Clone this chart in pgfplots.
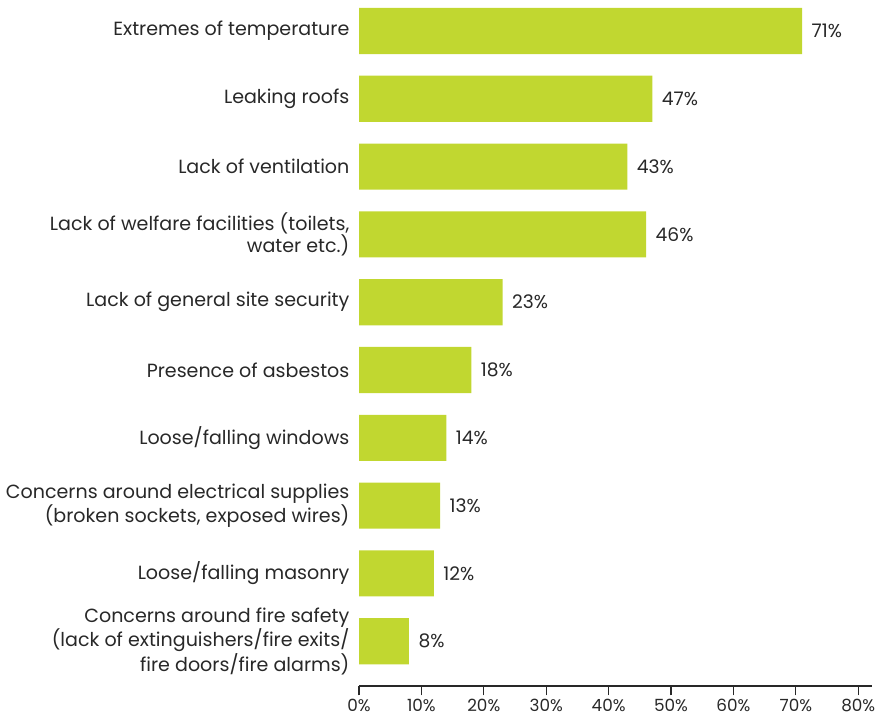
\documentclass[border=0pt]{standalone}
\usepackage{pgfplots}
\pgfplotsset{compat=1.18}
\usepackage{fontspec}
\setmainfont{Poppins}
\definecolor{barlime}{RGB}{193,215,48}
\definecolor{txt}{RGB}{40,40,40}
\begin{document}
\begin{tikzpicture}
\path[use as bounding box] (0,0) rectangle (672pt,540pt);
\begin{axis}[
  at={(269.25pt,25.5pt)}, anchor=south west,
  scale only axis, width=384.75pt, height=514.5pt,
  xbar, bar width=0.68, bar shift=0pt,
  xmin=0, xmax=82.2,
  ymin=-0.457, ymax=9.66, y dir=reverse,
  axis x line*=bottom, axis y line*=left,
  y axis line style={draw=none},
  x axis line style={draw=txt, line width=0.9pt, -},
  ytick={0,...,9}, ytick style={draw=none},
  yticklabels={
    {Extremes of temperature},
    {Leaking roofs},
    {Lack of ventilation},
    {Lack of welfare facilities (toilets,\\water etc.)},
    {Lack of general site security},
    {Presence of asbestos},
    {Loose/falling windows},
    {Concerns around electrical supplies\\(broken sockets, exposed wires)},
    {Loose/falling masonry},
    {Concerns around fire safety\\(lack of extinguishers/fire exits/\\fire doors/fire alarms)}},
  yticklabel style={align=right, font=\fontsize{14.3}{16.6}\selectfont, text=txt, inner sep=0pt, xshift=0pt},
  xtick={0,10,...,80},
  xticklabel={\pgfmathprintnumber{\tick}\%},
  /pgf/number format/assume math mode=true,
  xticklabel style={font=\fontsize{12.6}{14}\selectfont, text=txt, inner sep=0pt, yshift=-2.5pt},
  xtick style={draw=txt, line width=0.9pt},
  tick align=outside, major tick length=7pt,
  nodes near coords={\pgfmathprintnumber{\pgfplotspointmeta}\%},
  nodes near coords style={font=\fontsize{14}{14}\selectfont, text=txt, anchor=west, inner sep=0pt, xshift=7pt},
  clip=false,
]
\addplot[fill=barlime, draw=none] coordinates {
(71,0) (47,1) (43,2) (46,3) (23,4) (18,5) (14,6) (13,7) (12,8) (8,9)};
\end{axis}
\end{tikzpicture}
\end{document}
